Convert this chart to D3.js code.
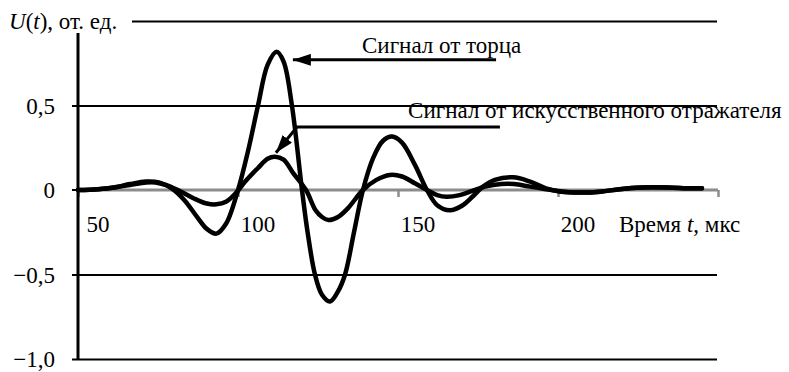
<!DOCTYPE html>
<html>
<head>
<meta charset="utf-8">
<script src="https://cdn.jsdelivr.net/npm/d3@7"></script>
</head>
<body style="margin:0;padding:0;background:#fff">
<svg id="chart" width="789" height="372" style="display:block"></svg>
<script>
// Time samples, μs
const endTime = [43.75, 50, 55, 60, 65, 69, 73, 77, 81, 84, 87, 90, 93.75, 97, 100, 103, 105.8, 108, 110.6, 113.75,
  115.5, 117.8, 120, 122.5, 125, 127.2, 130, 132.8, 136, 139, 141.9, 145, 149, 152.8, 156, 160, 164, 167, 170.3,
  174, 179.7, 185, 190, 195, 200, 207, 213, 220, 228, 235, 238.75];
// Signal from the end face, rel. units
const endSignal = [0, 0.005, 0.015, 0.035, 0.05, 0.045, 0.01, -0.06, -0.16, -0.23, -0.258, -0.2, 0, 0.24, 0.5, 0.74, 0.818, 0.76, 0.5, 0,
  -0.25, -0.5, -0.62, -0.66, -0.6, -0.5, -0.25, 0, 0.19, 0.29, 0.316, 0.28, 0.15, 0, -0.09, -0.12, -0.09, -0.04, 0.02,
  0.06, 0.075, 0.05, 0.01, -0.01, -0.015, -0.01, 0.005, 0.015, 0.015, 0.01, 0.01];

const reflTime = [43.75, 50, 55, 60, 65, 68, 72, 76, 80, 84, 87, 90, 93, 96, 100, 103, 105.3, 108, 111, 115,
  118, 120, 122, 125, 128, 132.8, 137, 141.2, 145, 149, 152.8, 156, 159, 163, 167, 171, 176, 180, 185, 190,
  195, 200, 207, 213, 220, 228, 235, 238.75];
// Signal from the artificial reflector, rel. units
const reflSignal = [0, 0.005, 0.015, 0.03, 0.045, 0.045, 0.025, -0.01, -0.05, -0.08, -0.085, -0.07, -0.02, 0.05, 0.13, 0.185, 0.197, 0.18, 0.1, 0,
  -0.12, -0.16, -0.178, -0.16, -0.11, 0, 0.06, 0.089, 0.08, 0.04, 0, -0.03, -0.04, -0.03, -0.005, 0.02, 0.035, 0.035, 0.02, 0.005,
  -0.01, -0.015, -0.01, 0.005, 0.015, 0.015, 0.01, 0.01];

const xLabelValues = [50, 100, 150, 200];
const yTickValues = [-1, -0.5, 0, 0.5, 1];
const yTickLabels = ["\u22121,0", "\u22120,5", "0", "0,5", ""];

const svg = d3.select("#chart");
const x = d3.scaleLinear().domain([43.75, 243.75]).range([78, 718]);
const y = d3.scaleLinear().domain([-1, 1]).range([359, 21]);
const fontSize = 23;

// horizontal grid + left ticks
const yAxis = d3.axisLeft(y).tickValues(yTickValues)
  .tickFormat((d, i) => yTickLabels[i]);
const gy = svg.append("g").attr("transform", `translate(${x.range()[0]},0)`).call(yAxis);
gy.attr("font-family", null).attr("font-size", null);
gy.select(".domain").remove();
gy.selectAll(".tick line")
  .attr("x1", -6).attr("x2", x.range()[1] - x.range()[0] - 1)
  .attr("stroke-width", 2)
  .attr("stroke", d => d === 0 ? "none" : "#000");
gy.selectAll(".tick text")
  .attr("x", -23).attr("dy", "0.33em");

// x axis (grey line at zero with ticks)
const xTicks = d3.range(x.domain()[0], x.domain()[1] + 1, 50);
const xAxis = d3.axisBottom(x).tickValues(xTicks).tickSize(7).tickFormat("");
const gx = svg.append("g").attr("transform", `translate(0,${y(0)})`).call(xAxis);
gx.select(".domain").attr("stroke", "#8c8c8c").attr("stroke-width", 3)
  .attr("d", `M${x.range()[0]},0H${x.range()[1]}`);
gx.selectAll(".tick line").attr("stroke", "#8c8c8c").attr("stroke-width", 2.5);
svg.append("line").attr("x1", 72).attr("x2", 78).attr("y1", y(0)).attr("y2", y(0))
  .attr("stroke", "#000").attr("stroke-width", 2);

svg.append("g").selectAll("text").data(xLabelValues).join("text")
  .attr("x", d => x(d)).attr("y", 232).attr("text-anchor", "middle").text(d => d);

// vertical axis line
svg.append("line").attr("x1", x.range()[0]).attr("x2", x.range()[0])
  .attr("y1", y(1)).attr("y2", y(-1) + 1).attr("stroke", "#000").attr("stroke-width", 3);

// y title with white backdrop over top gridline
svg.append("rect").attr("x", 0).attr("y", 0).attr("width", 132).attr("height", 33).attr("fill", "#fff");
const yt = svg.append("text").attr("x", 9).attr("y", 29);
yt.append("tspan").attr("font-style", "italic").text("U");
yt.append("tspan").text("(");
yt.append("tspan").attr("font-style", "italic").text("t");
yt.append("tspan").text("), от. ед.");

// x title
const xt = svg.append("text").attr("x", 619).attr("y", 232);
xt.append("tspan").text("Время ");
xt.append("tspan").attr("font-style", "italic").text("t");
xt.append("tspan").text(", мкс");

// signal curves
const line = d3.line().x(d => x(d[0])).y(d => y(d[1])).curve(d3.curveCatmullRom.alpha(0.5));
const series = [
  d3.zip(reflTime, reflSignal),
  d3.zip(endTime, endSignal)
];
svg.append("g").selectAll("path").data(series).join("path")
  .attr("d", line).attr("fill", "none").attr("stroke", "#000")
  .attr("stroke-width", 4.5).attr("stroke-linejoin", "round").attr("stroke-linecap", "round");

// annotation arrows
svg.append("defs").append("marker")
  .attr("id", "head").attr("viewBox", "0 0 18 12").attr("refX", 18).attr("refY", 6)
  .attr("markerWidth", 18).attr("markerHeight", 12).attr("markerUnits", "userSpaceOnUse")
  .attr("orient", "auto")
  .append("path").attr("d", "M0,0L18,6L0,12Z").attr("fill", "#000");

const annotations = [
  { text: "Сигнал от торца", tx: 132.5, ty: 0.81, path: [[174.4, 0.77], [110.9, 0.77]] },
  { text: "Сигнал от искусственного отражателя", tx: 146.9, ty: 0.426,
    path: [[175.6, 0.373], [112.2, 0.373], [105.6, 0.22]] }
];
annotations.forEach(a => {
  svg.append("path")
    .attr("d", d3.line().x(d => x(d[0])).y(d => y(d[1]))(a.path))
    .attr("fill", "none").attr("stroke", "#000").attr("stroke-width", 3)
    .attr("marker-end", "url(#head)");
  svg.append("text").attr("x", x(a.tx)).attr("y", y(a.ty)).text(a.text);
});

// common text styling
svg.selectAll("text")
  .style("font-family", "Liberation Serif")
  .style("font-size", fontSize + "px")
  .style("fill", "#000");
</script>
</body>
</html>
